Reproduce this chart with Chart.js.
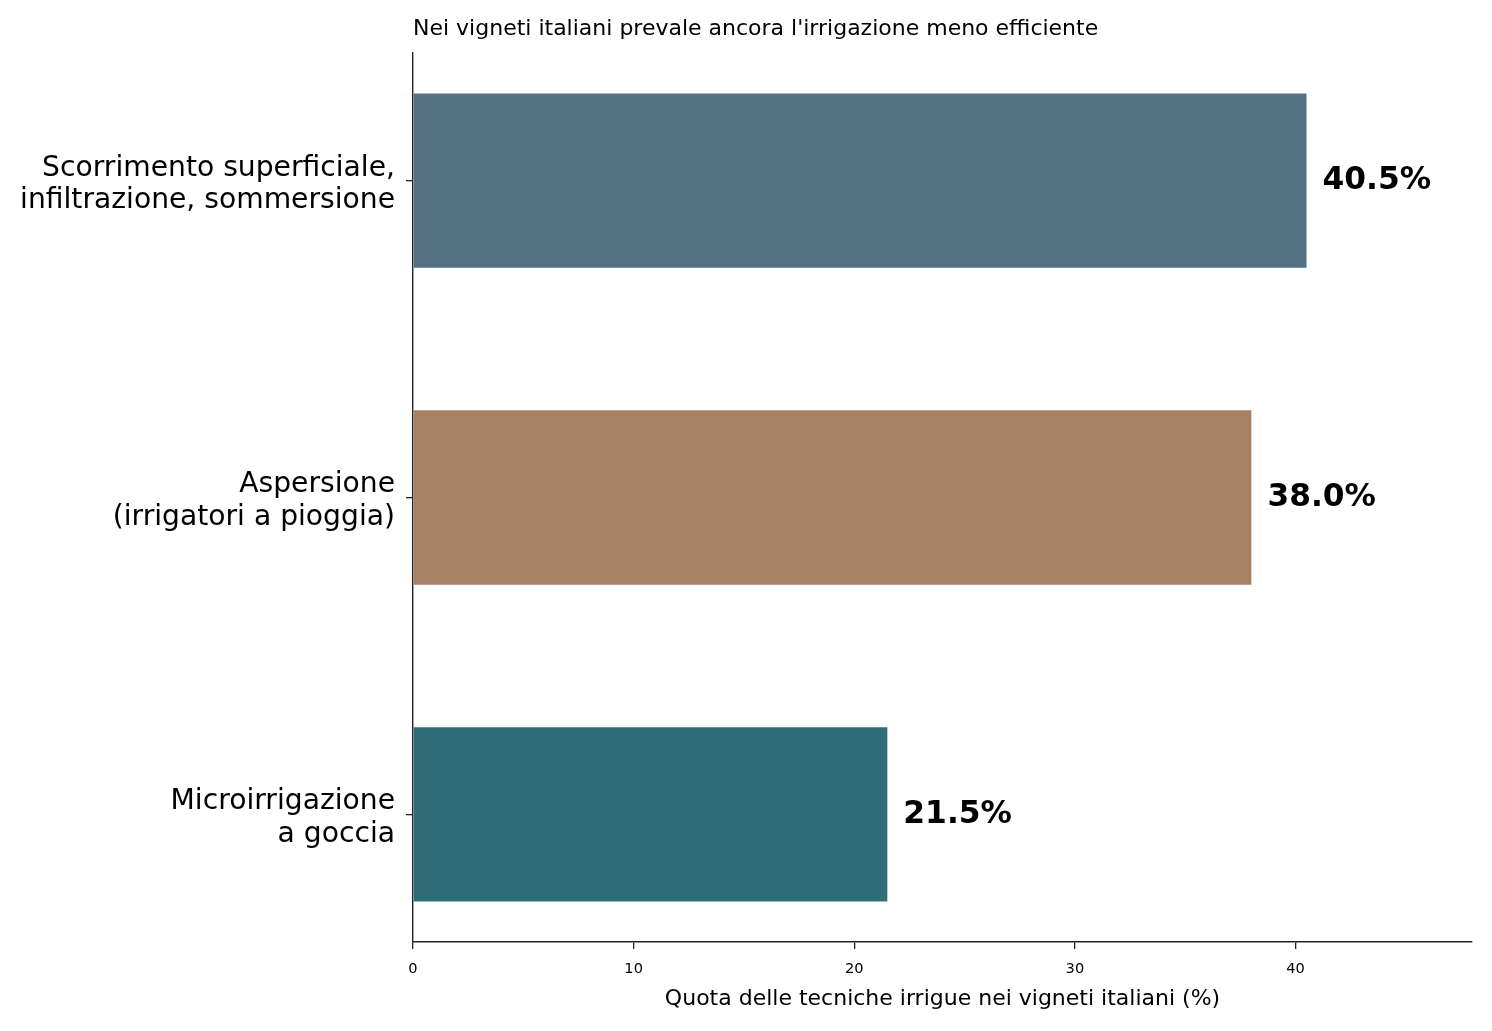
<!DOCTYPE html>
<html lang="it">
<head>
    <meta charset="UTF-8">
    <title>Tecniche irrigue nei vigneti italiani</title>
    <style>
        html, body { margin: 0; padding: 0; background: #fff; }
        #wrap { width: 1492px; height: 1031px; }
    </style>
    <script src="https://cdn.jsdelivr.net/npm/chart.js"></script>
</head>
<body>
    <div id="wrap"><canvas id="grafico"></canvas></div>

    <script>
        // dati
        const categorie = [
            ['Scorrimento superficiale,', 'infiltrazione, sommersione'],
            ['Aspersione', '(irrigatori a pioggia)'],
            ['Microirrigazione', 'a goccia']
        ];
        const quote = [40.5, 38.0, 21.5];
        const colori = ['#557284', '#a68163', '#2f6e77'];
        const titolo = "Nei vigneti italiani prevale ancora l'irrigazione meno efficiente";
        const titoloAsseX = 'Quota delle tecniche irrigue nei vigneti italiani (%)';

        const FONT = "'DejaVu Sans', sans-serif";

        // titolo allineato al bordo sinistro dell'area del grafico
        const pluginTitolo = {
            id: 'titolo',
            afterDraw(chart) {
                const ctx = chart.ctx;
                ctx.save();
                ctx.font = '22px ' + FONT;
                ctx.fillStyle = '#000';
                ctx.textAlign = 'left';
                ctx.textBaseline = 'middle';
                ctx.fillText(titolo, chart.chartArea.left, 29.5);
                ctx.restore();
            }
        };

        // etichette con i valori a destra delle barre
        const pluginValori = {
            id: 'valori',
            afterDatasetsDraw(chart) {
                const ctx = chart.ctx;
                const meta = chart.getDatasetMeta(0);
                ctx.save();
                ctx.font = 'bold 31.3px ' + FONT;
                ctx.fillStyle = '#000';
                ctx.textAlign = 'left';
                ctx.textBaseline = 'middle';
                meta.data.forEach((bar, i) => {
                    ctx.fillText(quote[i].toFixed(1) + '%', bar.x + 16, bar.y);
                });
                ctx.restore();
            }
        };

        const ctx = document.getElementById('grafico').getContext('2d');
        new Chart(ctx, {
            type: 'bar',
            data: {
                datasets: [{
                    data: quote.map((v, i) => ({ x: v, y: i })),
                    backgroundColor: colori,
                    borderWidth: 0,
                    barPercentage: 0.55,
                    categoryPercentage: 1
                }]
            },
            options: {
                indexAxis: 'y',
                responsive: true,
                maintainAspectRatio: false,
                animation: false,
                layout: { padding: { top: 53, right: 20, left: 0, bottom: 0 } },
                plugins: {
                    legend: { display: false },
                    tooltip: { enabled: false }
                },
                scales: {
                    x: {
                        type: 'linear',
                        min: 0,
                        max: 48,
                        grid: { display: true, drawOnChartArea: false, drawTicks: true, tickLength: 7, lineWidth: 1.3, color: '#222' },
                        border: { display: true, color: '#222', width: 1.4 },
                        ticks: {
                            stepSize: 10,
                            includeBounds: false,
                            color: '#000',
                            font: { family: FONT, size: 14.6 },
                            padding: 11,
                            maxRotation: 0
                        },
                        title: {
                            display: true,
                            text: titoloAsseX,
                            color: '#000',
                            font: { family: FONT, size: 22 },
                            padding: { top: 0, bottom: 19 }
                        },
                        afterFit(scale) { scale.height = 89; }
                    },
                    y: {
                        type: 'linear',
                        reverse: true,
                        offset: false,
                        min: -0.4025,
                        max: 2.4025,
                        grid: { display: true, offset: false, drawOnChartArea: false, drawTicks: true, tickLength: 7, lineWidth: 1.3, color: '#222' },
                        border: { display: true, color: '#222', width: 1.4 },
                        ticks: {
                            stepSize: 1,
                            includeBounds: false,
                            color: '#000',
                            font: { family: FONT, size: 28.2, lineHeight: 1.16 },
                            padding: 11,
                            labelOffset: 4,
                            callback: (v) => categorie[v]
                        },
                        afterFit(scale) { scale.width = 413; }
                    }
                }
            },
            plugins: [pluginTitolo, pluginValori]
        });
    </script>
</body>
</html>
